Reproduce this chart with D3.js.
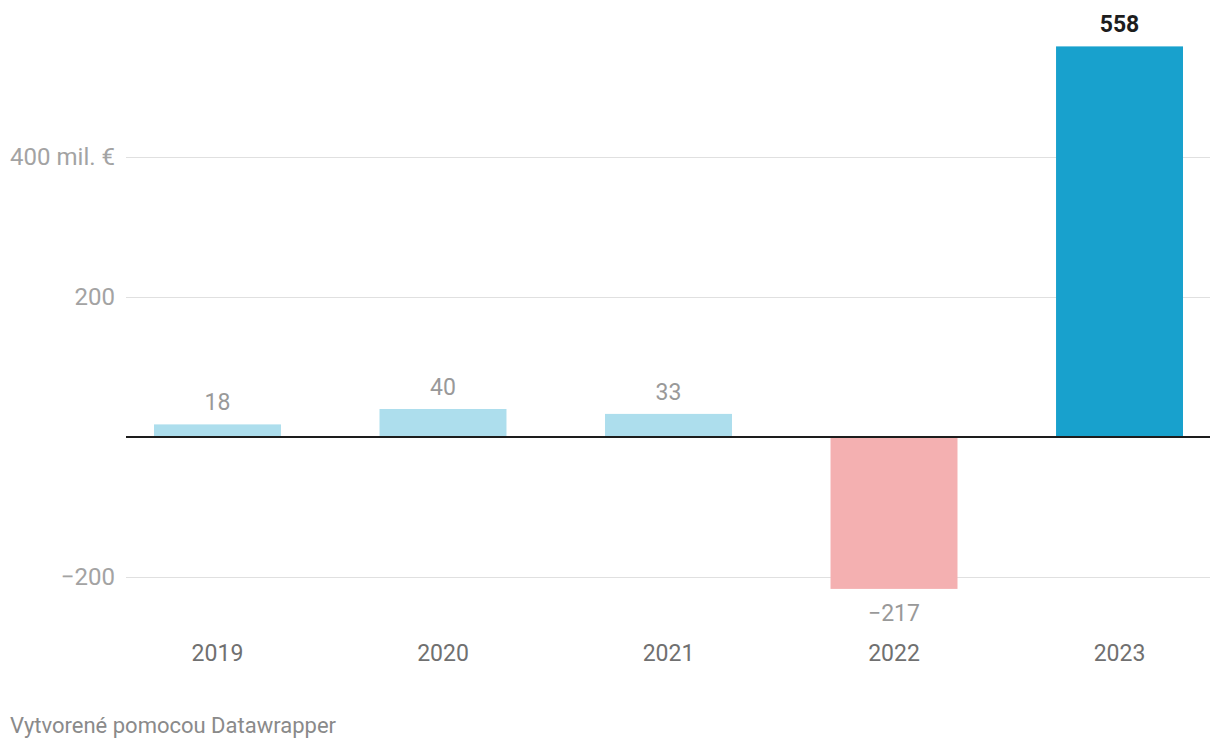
<!DOCTYPE html>
<html>
<head>
<meta charset="utf-8">
<script src="https://cdn.jsdelivr.net/npm/d3@7"></script>
<style>
  body { margin: 0; background: #fff; }
  text { font-family: Roboto, sans-serif; }
</style>
</head>
<body>
<div id="grafico"></div>
<script>
// data
const roky = ['2019', '2020', '2021', '2022', '2023'];
const hodnoty = [18, 40, 33, -217, 558];
const farby = ['#addeed', '#addeed', '#addeed', '#f4b0b1', '#18a1cd'];
const tickHodnoty = [-200, 200, 400];
const tickTexty = ['\u2212200', '200', '400 mil. \u20ac'];

var ancho = 1220;
var alto = 750;

var svg = d3.select("#grafico")
    .append("svg")
    .attr("width", ancho)
    .attr("height", alto);

var y = d3.scaleLinear()
    .domain([0, 400])
    .range([437, 157]);

var x = d3.scaleBand()
    .domain(roky)
    .range([154, 1183])
    .paddingInner(0.437)
    .paddingOuter(0);

// grid
svg.selectAll(".grid")
    .data(tickHodnoty)
    .enter().append("line")
    .attr("x1", 126)
    .attr("x2", 1210)
    .attr("y1", d => Math.round(y(d)) + 0.5)
    .attr("y2", d => Math.round(y(d)) + 0.5)
    .style("stroke", "#e0e0e0")
    .style("stroke-width", 1.2);

svg.selectAll(".ytick")
    .data(tickHodnoty)
    .enter().append("text")
    .attr("x", 115)
    .attr("y", d => y(d))
    .attr("dy", "0.35em")
    .attr("text-anchor", "end")
    .style("font-size", "24px")
    .style("fill", "#a3a3a3")
    .text((d, i) => tickTexty[i]);

// bars
svg.selectAll("rect")
    .data(hodnoty)
    .enter().append("rect")
    .attr("x", (d, i) => x(roky[i]))
    .attr("y", d => y(Math.max(0, d)))
    .attr("width", x.bandwidth())
    .attr("height", d => Math.abs(y(d) - y(0)))
    .style("fill", (d, i) => farby[i]);

// zero line
svg.append("line")
    .attr("x1", 126)
    .attr("x2", 1210)
    .attr("y1", y(0))
    .attr("y2", y(0))
    .style("stroke", "#1d1d1d")
    .style("stroke-width", 2);

// value labels
svg.selectAll(".hodnota")
    .data(hodnoty)
    .enter().append("text")
    .attr("x", (d, i) => x(roky[i]) + x.bandwidth() / 2)
    .attr("y", d => d >= 0 ? y(d) - 14 : y(d) + 32)
    .attr("text-anchor", "middle")
    .style("font-size", "23px")
    .style("font-weight", (d, i) => i === hodnoty.length - 1 ? "700" : "400")
    .style("fill", (d, i) => i === hodnoty.length - 1 ? "#1d1d1d" : "#999999")
    .text(d => d < 0 ? '\u2212' + Math.abs(d) : d);

// year labels
svg.selectAll(".rok")
    .data(roky)
    .enter().append("text")
    .attr("x", d => x(d) + x.bandwidth() / 2)
    .attr("y", 661)
    .attr("text-anchor", "middle")
    .style("font-size", "23px")
    .style("fill", "#707070")
    .text(d => d);

// footer
svg.append("text")
    .attr("x", 10)
    .attr("y", 733)
    .style("font-size", "22px")
    .style("fill", "#8a8a8a")
    .text("Vytvoren\u00e9 pomocou Datawrapper");
</script>
</body>
</html>
